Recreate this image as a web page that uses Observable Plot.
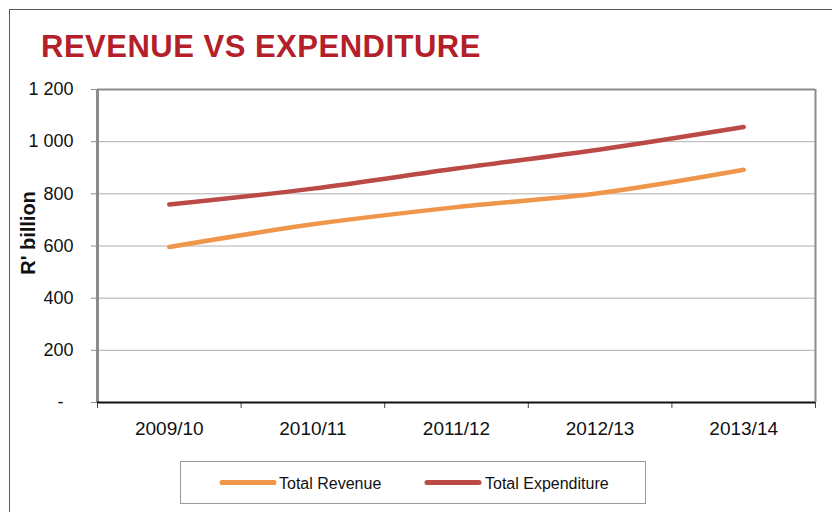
<!DOCTYPE html>
<html>
<head>
<meta charset="utf-8">
<script src="https://cdn.jsdelivr.net/npm/d3@7"></script>
<script src="https://cdn.jsdelivr.net/npm/@observablehq/plot@0.6"></script>
<style>
  html, body { margin: 0; padding: 0; background: #fff; }
  #wrap { position: relative; width: 832px; height: 512px; overflow: hidden; font-family: "Liberation Sans", Arial, sans-serif; }
  #wrap svg { position: absolute; left: 0; top: 0; }
</style>
</head>
<body>
<div id="wrap"></div>
<script>
const categories = ["2009/10", "2010/11", "2011/12", "2012/13", "2013/14"];
const revenue = [596, 683, 749, 803, 892];
const expenditure = [759, 820, 897, 970, 1056];
const seriesNames = ["Total Revenue", "Total Expenditure"];
const seriesColors = ["#F0964A", "#BB4A47"];
const yTicks = [0, 200, 400, 600, 800, 1000, 1200];
const title = "REVENUE VS EXPENDITURE";
const yLabel = "R' billion";

const rows = [];
categories.forEach((c, i) => {
  rows.push({pos: i + 0.5, category: c, value: revenue[i], series: seriesNames[0]});
});
categories.forEach((c, i) => {
  rows.push({pos: i + 0.5, category: c, value: expenditure[i], series: seriesNames[1]});
});

const fmt = d => d === 0 ? "-\u00a0\u00a0" : d3.format(",")(d).replace(/,/g, " ");

const chart = Plot.plot({
  width: 832,
  height: 512,
  marginLeft: 97,
  marginRight: 17,
  marginTop: 89,
  marginBottom: 110,
  style: {fontFamily: "'Liberation Sans', Arial, sans-serif", color: "#111", background: "transparent"},
  x: {type: "linear", domain: [0, categories.length], axis: null},
  y: {domain: [0, 1200], axis: null},
  color: {domain: seriesNames, range: seriesColors},
  marks: [
    Plot.ruleY(yTicks.filter(d => d > 0 && d < 1200), {stroke: "#b0b0b0", strokeWidth: 1}),
    Plot.axisY({ticks: yTicks, tickSize: 6, tickPadding: 18, tickFormat: fmt, stroke: "#8c8c8c", fontSize: 18, label: null}),
    Plot.axisX({ticks: d3.range(categories.length + 1), tickSize: 6, tickFormat: () => "", stroke: "#444", label: null}),
    Plot.axisX({ticks: categories.map((c, i) => i + 0.5), tickSize: 0, tickPadding: 19,
      tickFormat: d => categories[Math.round(d - 0.5)], fontSize: 19, label: null}),
    Plot.ruleY([1200], {stroke: "#8c8c8c", strokeWidth: 2}),
    Plot.ruleX([categories.length], {stroke: "#8c8c8c", strokeWidth: 2}),
    Plot.ruleX([0], {stroke: "#8c8c8c", strokeWidth: 3}),
    Plot.ruleY([0], {stroke: "#111", strokeWidth: 2}),
    Plot.line(rows, {x: "pos", y: "value", stroke: "series", z: "series", strokeWidth: 4.5,
      curve: "catmull-rom", strokeLinecap: "round", strokeLinejoin: "round"})
  ]
});

const wrap = document.getElementById("wrap");

// Overlay: outer frame, title, axis label, legend
const ns = "http://www.w3.org/2000/svg";
const over = document.createElementNS(ns, "svg");
over.setAttribute("width", 832);
over.setAttribute("height", 512);
over.setAttribute("font-family", "'Liberation Sans', Arial, sans-serif");

function el(name, attrs, text) {
  const e = document.createElementNS(ns, name);
  for (const k in attrs) e.setAttribute(k, attrs[k]);
  if (text != null) e.textContent = text;
  over.appendChild(e);
  return e;
}

el("rect", {x: 9.5, y: 9.5, width: 900, height: 600, fill: "none", stroke: "#5a5a5a", "stroke-width": 1});
el("text", {x: 41, y: 56.5, "font-size": 31, "font-weight": "bold", fill: "#B3202A", "letter-spacing": "0.5"}, title);
el("text", {transform: "translate(35,233) rotate(-90)", "text-anchor": "middle", "font-size": 20, "font-weight": "bold", fill: "#111"}, yLabel);

// legend
el("rect", {x: 180.5, y: 461.5, width: 465, height: 42, fill: "#fff", stroke: "#999", "stroke-width": 1});
const legendX = [[222, 274, 279], [427, 479, 485]];
seriesNames.forEach((s, i) => {
  const [a, b, t] = legendX[i];
  el("line", {x1: a, x2: b, y1: 482.5, y2: 482.5, stroke: seriesColors[i], "stroke-width": 5, "stroke-linecap": "round"});
  el("text", {x: t, y: 488.5, "font-size": 16, fill: "#111"}, s);
});

wrap.appendChild(chart);
wrap.appendChild(over);
</script>
</body>
</html>
